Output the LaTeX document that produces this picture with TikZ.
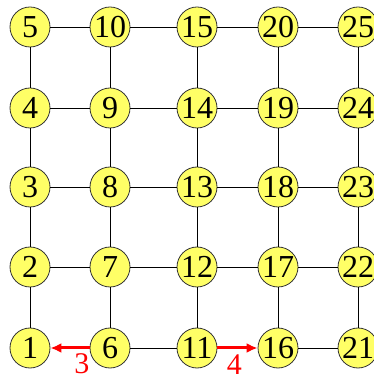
\documentclass[tikz,border=0pt]{standalone}
\usepackage{fontspec}
\setmainfont{Liberation Serif}
\usetikzlibrary{arrows.meta}
\definecolor{nodeyellow}{RGB}{255,255,102}
\begin{document}
\begin{tikzpicture}[x=1pt,y=1pt,
  vert/.style={circle,draw=black!80,line width=0.8pt,fill=nodeyellow,minimum size=40pt,inner sep=0pt,font=\fontsize{32}{32}\selectfont},
  edge/.style={black,line width=0.9pt},
  redarrow/.style={red,line width=3pt,-{Latex[length=11pt,width=10pt]}},
  lbl/.style={red,font=\fontsize{30}{30}\selectfont,inner sep=1pt}]
\useasboundingbox (0,0) rectangle (373,380);
\foreach \c/\x in {0/30,1/110,2/197,3/278,4/358}{
  \foreach \r/\y in {0/32,1/113,2/193,3/272,4/353}{
    \pgfmathtruncatemacro{\n}{\c*5+\r+1}
    \node[vert] (v\n) at (\x,\y) {\n};
  }
}
\foreach \c in {0,...,4}{
  \foreach \r in {1,...,4}{
    \pgfmathtruncatemacro{\a}{\c*5+\r}
    \pgfmathtruncatemacro{\b}{\c*5+\r+1}
    \draw[edge] (v\a) -- (v\b);
  }
}
\foreach \c in {0,...,3}{
  \foreach \r in {1,...,5}{
    \pgfmathtruncatemacro{\a}{\c*5+\r}
    \pgfmathtruncatemacro{\b}{\c*5+\r+5}
    \ifnum\a=1\relax\else\ifnum\a=11\relax\else
    \draw[edge] (v\a) -- (v\b);
    \fi\fi
  }
}
\draw[redarrow] (v6) -- node[lbl,pos=0.2,below=3pt] (l3) {3} (v1);
\draw[redarrow] (v11) -- node[lbl,pos=0.42,below=4pt] (l4) {4} (v16);
\end{tikzpicture}
\end{document}
